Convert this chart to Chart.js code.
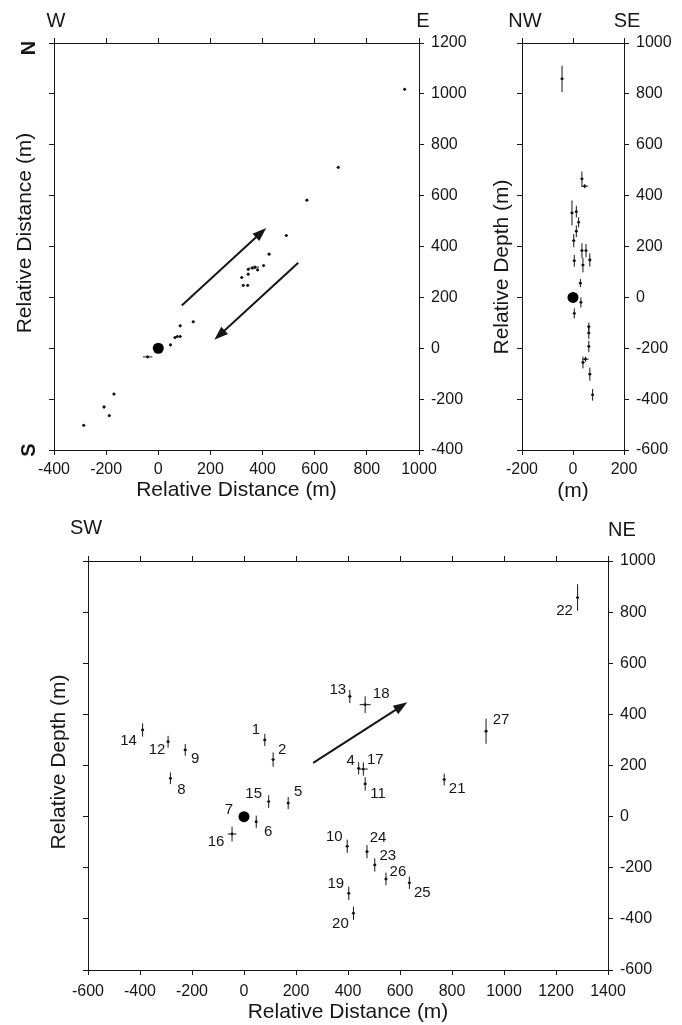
<!DOCTYPE html>
<html lang="en">
<head>
<meta charset="utf-8">
<title>Relative event locations</title>
<script src="https://cdn.jsdelivr.net/npm/chart.js@4.4.1/dist/chart.umd.min.js"></script>
<style>
html,body{margin:0;padding:0;background:#fff;}
body{position:relative;width:682px;height:1025px;overflow:hidden;}
canvas{position:absolute;display:block;}
</style>
</head>
<body>
<canvas id="plan" width="480" height="510" style="left:0;top:0;width:480px;height:510px"></canvas>
<canvas id="nwse" width="202" height="510" style="left:480px;top:0;width:202px;height:510px"></canvas>
<canvas id="swne" width="682" height="515" style="left:0;top:510px;width:682px;height:515px"></canvas>
<script>
// ================= DATA =================
// Plan view (W-E / S-N), metres relative to main event
const planEast  = [945, 690, 570, 491, 425, 404, 345, 361, 371, 381, 345, 320, 326, 343, 134, 84, 73, 84, 64, 47, -41, -170, -208, -188, -286];
const planNorth = [1018, 711, 582, 443, 370, 325, 310, 315, 319, 308, 291, 278, 247, 247, 104, 88, 46, 46, 42, 13, -34, -180, -231, -265, -303];
const planErrE  = [6, 6, 6, 6, 6, 6, 6, 15, 15, 6, 6, 6, 6, 6, 6, 6, 6, 6, 6, 6, 18, 6, 6, 6, 6];
const planErrN  = [6, 6, 6, 6, 6, 6, 6, 6, 6, 6, 6, 6, 6, 6, 6, 6, 6, 6, 6, 6, 6, 6, 6, 6, 6];
const planXTicks = [-400, -200, 0, 200, 400, 600, 800, 1000];
const planYTicks = [-400, -200, 0, 200, 400, 600, 800, 1000, 1200];
const planArrows = [[90, 168, 414, 473], [537, 336, 215, 33]];   // [x1,y1,x2,y2] in metres

// NW-SE depth section
const nwseAcross    = [-43, 35, 46, -4, 13, 22, 13, 3, 35, 51, 5, 66, 39, 29, 31, 5, 62, 62, 62, 39, 49, 66, 77];
const nwseDepth     = [859, 466, 437, 332, 337, 295, 260, 223, 184, 184, 144, 147, 127, 56, -20, -63, -115, -140, -193, -256, -243, -302, -383];
const nwseDepthErr  = [52, 29, 8, 49, 23, 20, 23, 26, 29, 26, 23, 26, 29, 16, 20, 20, 16, 23, 23, 23, 10, 26, 23];
const nwseAcrossErr = [6, 6, 13, 6, 6, 6, 6, 6, 6, 6, 6, 6, 6, 6, 6, 6, 6, 6, 6, 6, 12, 6, 6];
const nwseXTicks = [-200, 0, 200];
const nwseYTicks = [-600, -400, -200, 0, 200, 400, 600, 800, 1000];

// SW-NE depth section (numbered events)
const swneIds      = [1, 2, 4, 5, 6, 8, 9, 10, 11, 12, 13, 14, 15, 16, 17, 18, 19, 20, 21, 22, 23, 24, 25, 26, 27];
const swneDist     = [80, 112, 441, 170, 47, -283, -226, 397, 466, -292, 407, -390, 95, -46, 459, 466, 403, 421, 770, 1283, 503, 473, 636, 546, 931];
const swneDepth    = [300, 223, 189, 53, -20, 150, 261, -116, 128, 293, 470, 339, 59, -68, 186, 438, -300, -378, 145, 857, -189, -137, -259, -244, 334];
const swneDepthErr = [24, 28, 24, 24, 24, 23, 23, 26, 26, 23, 26, 26, 25, 29, 26, 33, 26, 26, 23, 52, 26, 26, 24, 25, 49];
const swneDistErr  = [6, 6, 6, 6, 6, 6, 6, 6, 6, 6, 6, 6, 6, 17, 17, 21, 6, 6, 6, 6, 6, 6, 6, 6, 6];
const swneXTicks = [-600, -400, -200, 0, 200, 400, 600, 800, 1000, 1200, 1400];
const swneYTicks = [-600, -400, -200, 0, 200, 400, 600, 800, 1000];
const swneArrows = [[266, 210, 628, 447]];

// Main event (reference point, id 7)
const mainId = 7;
const mainX = [0];
const mainY = [0];

// ================= LAYOUT (label offsets in px, not data) =================
const swneLabelDx = [-9, 9, -8, 10, 12, 11, 10, -13, 13, -11, -12, -14, -15, -16, 12, 16, -13, -13, 13, -13, 13, 11, 13, 12, 15];
const swneLabelDy = [-10, -10, -7, -11, 10, 12, 9, -9, 10, 8, -7, 11, -8, 8, -9, -11, -9, 11, 9, 13, -9, -14, 10, -7, -11];
const mainLabelDx = -15, mainLabelDy = -7;

const FONT = '"Liberation Sans", Arial, Helvetica, sans-serif';
const INK = '#161616';
Chart.defaults.font.family = FONT;
Chart.defaults.color = INK;

// ================= PLUGINS =================
const markPlugin = {
  id: 'marks',
  afterDatasetsDraw(chart) {
    const ctx = chart.ctx, xs = chart.scales.x, ys = chart.scales.y;
    const o = chart.options.plugins.marks || {};
    ctx.save();
    // error bars
    ctx.strokeStyle = INK; ctx.lineWidth = 1;
    chart.data.datasets.forEach(ds => {
      if (!ds.errorBars) return;
      ds.data.forEach(p => {
        const cx = xs.getPixelForValue(p.x), cy = ys.getPixelForValue(p.y);
        ctx.beginPath();
        if (p.ey) { ctx.moveTo(cx, ys.getPixelForValue(p.y - p.ey)); ctx.lineTo(cx, ys.getPixelForValue(p.y + p.ey)); }
        if (p.ex) { ctx.moveTo(xs.getPixelForValue(p.x - p.ex), cy); ctx.lineTo(xs.getPixelForValue(p.x + p.ex), cy); }
        ctx.stroke();
      });
    });
    // event labels
    ctx.fillStyle = INK;
    ctx.font = '15px ' + FONT;
    ctx.textAlign = 'center'; ctx.textBaseline = 'middle';
    chart.data.datasets.forEach(ds => {
      ds.data.forEach(p => {
        if (p.label === undefined) return;
        ctx.fillText(p.label, xs.getPixelForValue(p.x) + p.dx, ys.getPixelForValue(p.y) + p.dy);
      });
    });
    // arrows
    (o.arrows || []).forEach(a => {
      const x1 = xs.getPixelForValue(a[0]), y1 = ys.getPixelForValue(a[1]);
      const x2 = xs.getPixelForValue(a[2]), y2 = ys.getPixelForValue(a[3]);
      const ang = Math.atan2(y2 - y1, x2 - x1), hl = 14, hw = 10;
      const bx = x2 - hl * Math.cos(ang), by = y2 - hl * Math.sin(ang);
      ctx.lineWidth = 2; ctx.strokeStyle = INK;
      ctx.beginPath(); ctx.moveTo(x1, y1); ctx.lineTo(bx + 2 * Math.cos(ang), by + 2 * Math.sin(ang)); ctx.stroke();
      ctx.beginPath();
      ctx.moveTo(x2, y2);
      ctx.lineTo(bx + hw / 2 * Math.sin(ang), by - hw / 2 * Math.cos(ang));
      ctx.lineTo(bx - hw / 2 * Math.sin(ang), by + hw / 2 * Math.cos(ang));
      ctx.closePath(); ctx.fill();
    });
    ctx.restore();
  },
  afterDraw(chart) {
    const ctx = chart.ctx;
    const items = (chart.options.plugins.marks || {}).texts || [];
    ctx.save();
    ctx.fillStyle = INK; ctx.textAlign = 'center'; ctx.textBaseline = 'middle';
    items.forEach(t => {
      ctx.save();
      ctx.font = (t.bold ? 'bold ' : '') + t.size + 'px ' + FONT;
      ctx.translate(t.x, t.y);
      if (t.rot) ctx.rotate(t.rot);
      ctx.fillText(t.text, 0, 0);
      ctx.restore();
    });
    ctx.restore();
  }
};

// ================= HELPERS =================
function axis(axisName, pos, ticksArr, size, showLabels, pad, title) {
  const cfg = {
    type: 'linear', axis: axisName, position: pos,
    min: ticksArr[0], max: ticksArr[ticksArr.length - 1],
    grid: { drawOnChartArea: false, drawTicks: true, tickLength: 5, color: INK, lineWidth: 1 },
    border: { display: true, color: INK, width: 1 },
    ticks: {
      display: showLabels, stepSize: ticksArr[1] - ticksArr[0], autoSkip: false,
      maxRotation: 0, minRotation: 0, padding: pad, color: INK,
      font: { size: 16, family: FONT }, callback: v => String(v)
    },
    afterFit: s => { if (pos === 'left' || pos === 'right') s.width = size; else s.height = size; }
  };
  if (title) cfg.title = { display: true, text: title.text, color: INK, font: { size: 21, family: FONT }, padding: { top: 0, bottom: title.pb } };
  return cfg;
}
function pts(xs, ys, ex, ey) { return xs.map((x, i) => ({ x, y: ys[i], ex: ex[i], ey: ey[i] })); }
function makeChart(id, datasets, scales, marks) {
  return new Chart(document.getElementById(id), {
    type: 'scatter',
    data: { datasets },
    options: {
      responsive: false, animation: false, events: [],
      layout: { padding: 0 },
      scales,
      plugins: { legend: { display: false }, tooltip: { enabled: false }, marks }
    },
    plugins: [markPlugin]
  });
}
const evStyle = { pointRadius: 1.4, pointHoverRadius: 1.4, pointBackgroundColor: INK, pointBorderWidth: 0, showLine: false, errorBars: true, xAxisID: 'x', yAxisID: 'y' };
const mainStyle = { pointRadius: 5.5, pointHoverRadius: 5.5, pointBackgroundColor: '#000', pointBorderWidth: 0, showLine: false, xAxisID: 'x', yAxisID: 'y' };

// ================= PLAN VIEW =================
makeChart('plan',
  [
    Object.assign({ label: 'main', data: mainX.map((x, i) => ({ x, y: mainY[i] })) }, mainStyle),
    Object.assign({ label: 'events', data: pts(planEast, planNorth, planErrE, planErrN) }, evStyle)
  ],
  {
    x: axis('x', 'bottom', planXTicks, 60, true, 5, { text: 'Relative Distance (m)', pb: 7 }),
    xTop: axis('x', 'top', planXTicks, 43, false, 0),
    y: axis('y', 'right', planYTicks, 61, true, 7),
    yLeft: axis('y', 'left', planYTicks, 54, false, 0)
  },
  {
    arrows: planArrows,
    texts: [
      { text: 'W', x: 56, y: 21, size: 20 },
      { text: 'E', x: 423, y: 21, size: 20 },
      { text: 'N', x: 29, y: 48, size: 20, rot: -Math.PI / 2, bold: true },
      { text: 'S', x: 29, y: 450, size: 20, rot: -Math.PI / 2, bold: true },
      { text: 'Relative Distance (m)', x: 25, y: 233, size: 21, rot: -Math.PI / 2 }
    ]
  });

// ================= NW-SE SECTION =================
makeChart('nwse',
  [
    Object.assign({ label: 'main', data: mainX.map((x, i) => ({ x, y: mainY[i] })) }, mainStyle),
    Object.assign({ label: 'events', data: pts(nwseAcross, nwseDepth, nwseAcrossErr, nwseDepthErr) }, evStyle)
  ],
  {
    x: axis('x', 'bottom', nwseXTicks, 60, true, 5, { text: '(m)', pb: 6 }),
    xTop: axis('x', 'top', nwseXTicks, 43, false, 0),
    y: axis('y', 'right', nwseYTicks, 58, true, 7),
    yLeft: axis('y', 'left', nwseYTicks, 42, false, 0)
  },
  {
    texts: [
      { text: 'NW', x: 45, y: 21, size: 20 },
      { text: 'SE', x: 147, y: 21, size: 20 },
      { text: 'Relative Depth (m)', x: 22, y: 267, size: 21, rot: -Math.PI / 2 }
    ]
  });

// ================= SW-NE SECTION =================
const swnePts = swneDist.map((x, i) => ({ x, y: swneDepth[i], ex: swneDistErr[i], ey: swneDepthErr[i], label: String(swneIds[i]), dx: swneLabelDx[i], dy: swneLabelDy[i] }));
makeChart('swne',
  [
    Object.assign({ label: 'main', data: mainX.map((x, i) => ({ x, y: mainY[i], label: String(mainId), dx: mainLabelDx, dy: mainLabelDy })) }, mainStyle),
    Object.assign({ label: 'events', data: swnePts }, evStyle)
  ],
  {
    x: axis('x', 'bottom', swneXTicks, 55, true, 7, { text: 'Relative Distance (m)', pb: 0 }),
    xTop: axis('x', 'top', swneXTicks, 51, false, 0),
    y: axis('y', 'right', swneYTicks, 74, true, 7),
    yLeft: axis('y', 'left', swneYTicks, 88, false, 0)
  },
  {
    arrows: swneArrows,
    texts: [
      { text: 'SW', x: 86, y: 18, size: 20 },
      { text: 'NE', x: 622, y: 20, size: 20 },
      { text: 'Relative Depth (m)', x: 59, y: 252, size: 21, rot: -Math.PI / 2 }
    ]
  });
</script>
</body>
</html>
